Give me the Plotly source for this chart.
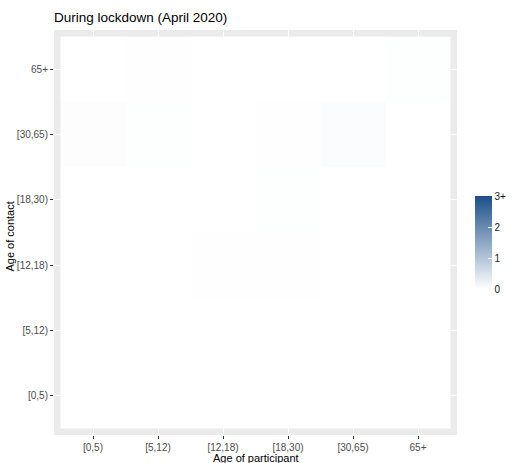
import plotly.graph_objects as go

# Age groups (participant on x, contact on y)
age_groups = ["[0,5)", "[5,12)", "[12,18)", "[18,30)", "[30,65)", "65+"]

# Mean contacts per participant; rows = age of contact ([0,5) first), cols = age of participant
contacts = [
    [0.000, 0.000, 0.000, 0.000, 0.000, 0.000],   # [0,5)
    [0.000, 0.000, 0.000, 0.000, 0.000, 0.000],   # [5,12)
    [0.000, 0.000, 0.010, 0.010, 0.000, 0.000],   # [12,18)
    [0.000, 0.000, 0.000, 0.020, 0.000, 0.000],   # [18,30)
    [0.030, 0.025, 0.000, 0.015, 0.050, 0.000],   # [30,65)
    [0.000, 0.015, 0.000, 0.000, 0.005, 0.020],   # 65+
]

colorbar_ticks = [0, 1, 2, 3]
colorbar_labels = ["0", "1", "2", "3+"]

FONT = "Liberation Sans, Arial, sans-serif"
W, H = 524, 463
ML, MR, MT, MB = 54, 67, 30, 28

idx = list(range(len(age_groups)))

fig = go.Figure(
    go.Heatmap(
        x=idx,
        y=idx,
        z=contacts,
        zmin=0,
        zmax=3,
        colorscale=[[0, "#FFFFFF"], [1, "#1B4F8A"]],
        xgap=0,
        ygap=0,
        hoverinfo="skip",
        colorbar=dict(
            thickness=17,
            thicknessmode="pixels",
            len=93,
            lenmode="pixels",
            x=(475 - ML) / (W - ML - MR),
            xanchor="left",
            xpad=0,
            y=(H - MB - 242.5) / (H - MT - MB),
            yanchor="middle",
            ypad=0,
            outlinewidth=0,
            tickmode="array",
            tickvals=colorbar_ticks,
            ticktext=colorbar_labels,
            ticks="inside",
            ticklen=4,
            tickcolor="white",
            tickwidth=1,
            tickfont=dict(family=FONT, size=10, color="#1A1A1A"),
        ),
    )
)

axis_common = dict(
    tickmode="array",
    tickvals=idx,
    ticktext=age_groups,
    range=[-0.6, 5.6],
    showgrid=True,
    gridcolor="white",
    gridwidth=1.1,
    zeroline=False,
    showline=False,
    ticks="outside",
    ticklen=3,
    tickwidth=1,
    tickcolor="#333333",
    tickfont=dict(family=FONT, size=10, color="#4D4D4D"),
    fixedrange=True,
)

fig.update_xaxes(**axis_common)
fig.update_yaxes(**axis_common)

fig.update_layout(
    width=W,
    height=H,
    margin=dict(l=ML, r=MR, t=MT, b=MB, autoexpand=False),
    paper_bgcolor="white",
    plot_bgcolor="#EBEBEB",
    font=dict(family=FONT, color="black"),
    title=dict(
        text="During lockdown (April 2020)",
        x=ML / W,
        xanchor="left",
        xref="container",
        y=1 - 17 / H,
        yanchor="middle",
        yref="container",
        font=dict(family=FONT, size=13.5, color="black"),
    ),
    annotations=[
        dict(
            text="Age of participant",
            xref="paper",
            yref="paper",
            x=0.5,
            y=-(458 - (H - MB)) / (H - MT - MB),
            xanchor="center",
            yanchor="middle",
            showarrow=False,
            font=dict(family=FONT, size=11, color="black"),
        ),
        dict(
            text="Age of contact",
            xref="paper",
            yref="paper",
            x=-(ML - 10) / (W - ML - MR),
            y=0.49,
            xanchor="center",
            yanchor="middle",
            textangle=-90,
            showarrow=False,
            font=dict(family=FONT, size=11, color="black"),
        ),
    ],
)

fig.write_html("out.html")
